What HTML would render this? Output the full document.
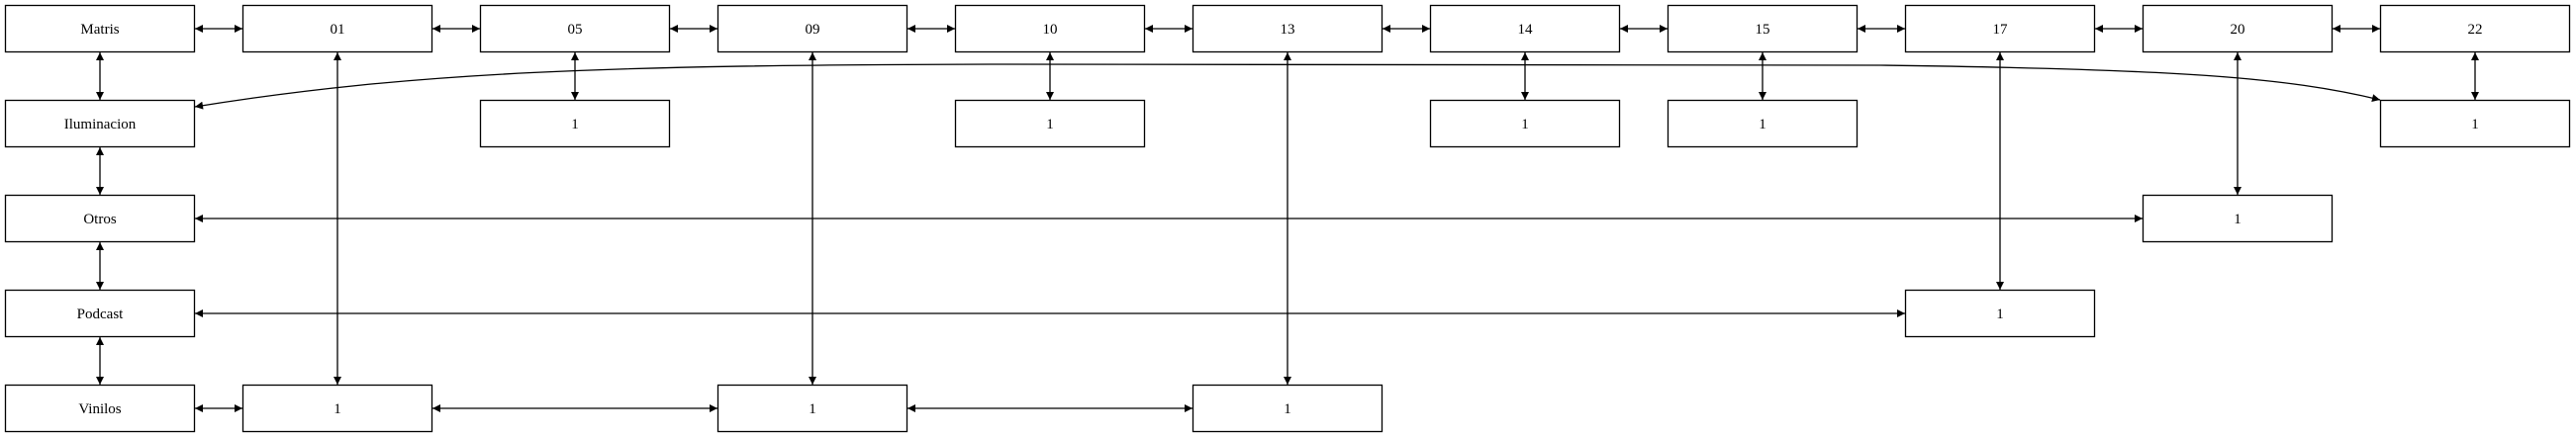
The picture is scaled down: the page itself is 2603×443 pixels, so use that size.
<!DOCTYPE html>
<html><head><meta charset="utf-8"><style>
html,body{margin:0;padding:0;background:#fff;}
svg{display:block;}
text{font-family:"Liberation Serif",serif;font-size:15px;fill:#000;}
</style></head><body>
<svg id="g" width="2603" height="443" viewBox="0 0 2603 443" xmlns="http://www.w3.org/2000/svg">
<defs>
<marker id="ah" viewBox="0 0 10 10" refX="10" refY="5" markerWidth="12" markerHeight="8" markerUnits="userSpaceOnUse" orient="auto-start-reverse"><path d="M0,0 L10,5 L0,10 z" fill="#000"/></marker>
</defs>
</svg>
<script>
// node labels, columns, rows
const nodeLabels = ["Matris","01","05","09","10","13","14","15","17","20","22","Iluminacion","1","1","1","1","1","Otros","1","Podcast","1","Vinilos","1","1","1"];
const nodeCols   = [0,1,2,3,4,5,6,7,8,9,10, 0,2,4,6,7,10, 0,9, 0,8, 0,1,3,5];
const nodeRows   = [0,0,0,0,0,0,0,0,0,0,0, 1,1,1,1,1,1, 2,2, 3,3, 4,4,4,4];
// edges as node-index pairs
const edgeFrom = [0,1,2,3,4,5,6,7,8,9, 0,11,17,19, 2,4,6,7,10, 1,3,5,8,9, 17,19,21,22,23];
const edgeTo   = [1,2,3,4,5,6,7,8,9,10, 11,17,19,21, 12,13,14,15,16, 22,23,24,20,18, 18,20,22,23,24];

const svg = document.getElementById('g');
const NS = 'http://www.w3.org/2000/svg';
const W = 192, H = 48;
const colX = c => 5 + 240 * c;
const rowY = r => 5 + 96 * r;

function line(x1,y1,x2,y2,name){
  const l = document.createElementNS(NS,'line');
  l.setAttribute('x1',x1);l.setAttribute('y1',y1);l.setAttribute('x2',x2);l.setAttribute('y2',y2);
  l.setAttribute('stroke','#000');l.setAttribute('stroke-width','1.3');
  l.setAttribute('marker-start','url(#ah)');l.setAttribute('marker-end','url(#ah)');
  
  
  svg.appendChild(l);
}

for (let k = 0; k < edgeFrom.length; k++) {
  const a = edgeFrom[k], b = edgeTo[k];
  const ca = nodeCols[a], ra = nodeRows[a], cb = nodeCols[b], rb = nodeRows[b];
  if (ra === rb) {
    const y = rowY(ra) + H/2;
    const left = Math.min(ca,cb), right = Math.max(ca,cb);
    line(colX(left)+W, y, colX(right), y, 'edge-h');
  } else {
    const x = colX(ca) + W/2;
    const top = Math.min(ra,rb), bot = Math.max(ra,rb);
    line(x, rowY(top)+H, x, rowY(bot), 'edge-v');
  }
}

// curved edge Iluminacion <-> col10 row1
const cp = document.createElementNS(NS,'path');
cp.setAttribute('d','M197,108 C 420,72 620,66 1000,65 L 1900,66 C 2200,70 2310,78 2405,101');
cp.setAttribute('fill','none');cp.setAttribute('stroke','#000');cp.setAttribute('stroke-width','1.3');
cp.setAttribute('marker-start','url(#ah)');cp.setAttribute('marker-end','url(#ah)');


svg.appendChild(cp);

for (let i = 0; i < nodeLabels.length; i++) {
  const x = colX(nodeCols[i]), y = rowY(nodeRows[i]);
  const g = document.createElementNS(NS,'g');
  
  
  const r = document.createElementNS(NS,'rect');
  r.setAttribute('x',x+0.5);r.setAttribute('y',y+0.5);r.setAttribute('width',W-1);r.setAttribute('height',H-1);
  r.setAttribute('fill','#fff');r.setAttribute('stroke','#000');r.setAttribute('stroke-width','1.3');
  g.appendChild(r);
  const t = document.createElementNS(NS,'text');
  t.setAttribute('x',x+W/2);t.setAttribute('y',y+H/2+5);t.setAttribute('text-anchor','middle');
  t.textContent = nodeLabels[i];
  g.appendChild(t);
  svg.appendChild(g);
}
</script>
</body></html>
